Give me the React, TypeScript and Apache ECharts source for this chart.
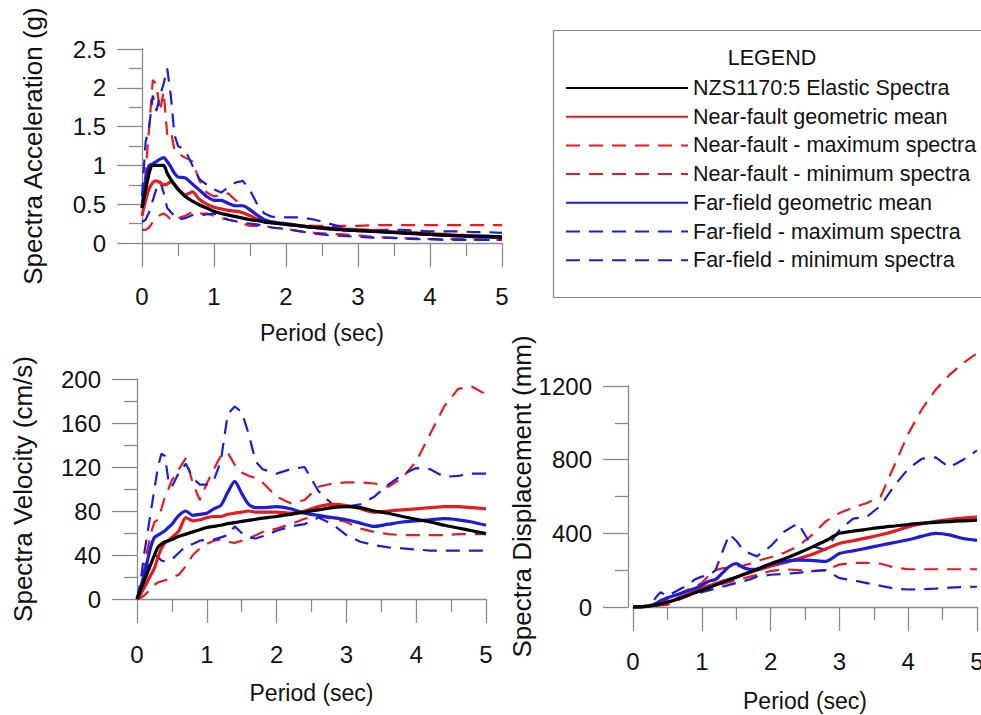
import React, { useEffect, useRef } from "react";
import * as echarts from "echarts";

const FONT = "Liberation Sans, Arial, Helvetica, sans-serif";
const RED = "#e41b1f";
const BLUE = "#1a1ed8";
const BLACK = "#000000";

// Period (sec)
const periods = [0, 0.05, 0.1, 0.15, 0.2, 0.25, 0.3, 0.35, 0.4, 0.45, 0.5, 0.6, 0.7, 0.8, 0.9, 1.0, 1.1, 1.2, 1.3, 1.4, 1.5, 1.6, 1.7, 1.8, 2.0, 2.2, 2.4, 2.6, 2.8, 3.0, 3.2, 3.4, 3.6, 3.8, 4.0, 4.2, 4.4, 4.6, 4.8, 5.0];

const xTicks = { min: 0, max: 5, interval: 1 };
const accTicks = { min: 0, max: 2.5, interval: 0.5 };
const velTicks = { min: 0, max: 200, interval: 40 };
const dispTicks = { min: 0, max: 1200, interval: 400 };

const seriesNames = [
  "NZS1170:5 Elastic Spectra",
  "Near-fault geometric mean",
  "Near-fault - maximum spectra",
  "Near-fault - minimum spectra",
  "Far-field geometric mean",
  "Far-field - maximum spectra",
  "Far-field - minimum spectra",
];

// Spectral acceleration (g)
const accNZS = [0.45, 0.68, 0.9, 1.0, 1.0, 1.0, 1.0, 0.9, 0.82, 0.75, 0.69, 0.6, 0.54, 0.49, 0.45, 0.41, 0.38, 0.36, 0.34, 0.32, 0.3, 0.29, 0.27, 0.26, 0.24, 0.22, 0.2, 0.19, 0.17, 0.16, 0.15, 0.14, 0.13, 0.12, 0.11, 0.1, 0.095, 0.09, 0.085, 0.08];
const accNearMean = [0.35, 0.55, 0.7, 0.78, 0.8, 0.78, 0.75, 0.76, 0.79, 0.76, 0.7, 0.62, 0.66, 0.56, 0.5, 0.46, 0.44, 0.42, 0.41, 0.39, 0.35, 0.31, 0.29, 0.27, 0.24, 0.22, 0.2, 0.19, 0.18, 0.17, 0.16, 0.15, 0.14, 0.13, 0.12, 0.11, 0.1, 0.09, 0.085, 0.08];
const accNearMax = [0.5, 0.9, 1.5, 2.1, 2.05, 1.7, 1.95, 1.4, 1.45, 1.2, 1.15, 1.1, 1.05, 0.8, 0.65, 0.6, 0.62, 0.64, 0.55, 0.5, 0.42, 0.35, 0.3, 0.28, 0.25, 0.23, 0.22, 0.22, 0.22, 0.22, 0.23, 0.23, 0.23, 0.23, 0.23, 0.23, 0.23, 0.23, 0.23, 0.23];
const accNearMin = [0.17, 0.17, 0.2, 0.27, 0.32, 0.36, 0.38, 0.35, 0.3, 0.3, 0.32, 0.35, 0.4, 0.38, 0.38, 0.35, 0.32, 0.3, 0.28, 0.25, 0.22, 0.22, 0.22, 0.2, 0.18, 0.15, 0.13, 0.12, 0.11, 0.1, 0.08, 0.07, 0.06, 0.06, 0.05, 0.05, 0.05, 0.04, 0.04, 0.04];
const accFarMean = [0.45, 0.8, 1.0, 1.02, 1.05, 1.08, 1.1, 1.05, 0.98, 0.9, 0.85, 0.84, 0.76, 0.68, 0.6, 0.55, 0.55, 0.51, 0.48, 0.48, 0.43, 0.36, 0.3, 0.27, 0.25, 0.22, 0.2, 0.18, 0.17, 0.16, 0.15, 0.14, 0.13, 0.12, 0.11, 0.1, 0.09, 0.08, 0.075, 0.07];
const accFarMax = [0.6, 1.3, 1.5, 1.9, 1.7, 1.9, 2.05, 2.25, 1.9, 1.4, 1.25, 1.2, 1.0, 0.82, 0.75, 0.69, 0.65, 0.72, 0.78, 0.8, 0.68, 0.5, 0.38, 0.34, 0.33, 0.33, 0.3, 0.25, 0.2, 0.17, 0.17, 0.17, 0.17, 0.16, 0.15, 0.15, 0.15, 0.14, 0.14, 0.13];
const accFarMin = [0.27, 0.3, 0.4, 0.55, 0.7, 0.8, 0.65, 0.45, 0.4, 0.35, 0.3, 0.32, 0.36, 0.35, 0.37, 0.38, 0.34, 0.3, 0.28, 0.26, 0.25, 0.24, 0.22, 0.2, 0.18, 0.15, 0.12, 0.1, 0.09, 0.08, 0.07, 0.07, 0.06, 0.05, 0.05, 0.04, 0.04, 0.04, 0.04, 0.04];

// Spectral velocity (cm/s)
const velNZS = [0, 8, 16, 24, 32, 40, 47, 50, 52, 53, 54, 57, 59, 61, 63, 65, 66, 67, 68.5, 69.5, 70.5, 71.5, 72.5, 73.5, 75, 77, 79, 81, 83, 84, 83, 80, 78, 75, 72.5, 70, 67, 64.5, 62, 59.5];
const velNearMean = [0, 4, 10, 16, 22, 28, 38, 46, 51, 53, 56, 62, 74, 71, 72, 74, 75, 75, 77, 78, 79, 80, 79, 79, 79, 78, 80, 84, 86, 85, 82, 79, 80, 81, 82, 83, 84, 84, 83, 82];
const velNearMax = [0, 10, 25, 45, 60, 70, 72, 82, 93, 100, 108, 118, 128, 105, 90, 105, 118, 130, 133, 122, 115, 112, 110, 106, 93, 87, 90, 102, 105, 106, 106, 105, 102, 110, 125, 150, 175, 191, 193, 186];
const velNearMin = [0, 1, 3, 6, 10, 13, 15, 16, 17, 18, 20, 22, 30, 40, 46, 50, 53, 54, 52, 51, 53, 55, 58, 61, 64, 68, 73, 75, 73, 70, 64, 61, 59, 58, 58, 58, 58, 59, 59, 59];
const velFarMean = [0, 10, 22, 35, 48, 56, 58, 60, 62, 65, 68, 76, 80, 76, 77, 78, 82, 85, 97, 107, 96, 86, 83, 83, 84, 82, 78, 76, 74, 72, 69, 66, 68, 70, 71, 72, 73, 72, 70, 67];
const velFarMax = [0, 15, 40, 60, 80, 100, 120, 132, 130, 108, 102, 115, 123, 110, 104, 104, 108, 125, 168, 175, 170, 150, 125, 118, 114, 118, 120, 98, 86, 84, 86, 93, 104, 113, 119, 118, 111, 112, 114, 114];
const velFarMin = [0, 8, 18, 28, 36, 40, 38, 35, 34, 35, 36, 42, 48, 50, 53, 54, 54, 56, 58, 66, 60, 56, 55, 57, 62, 66, 68, 74, 68, 58, 52, 49, 47, 46, 45, 44, 44, 44, 44, 44];

// Spectral displacement (mm)
const dispNZS = [0, 0.2, 1, 2, 4, 7, 10, 13, 17, 21, 26, 37, 50, 63, 77, 91, 105, 119, 133, 148, 162, 176, 190, 205, 235, 262, 292, 325, 360, 400, 412, 422, 432, 440, 448, 455, 460, 464, 468, 471];
const dispNearMean = [0, 0, 1, 2, 3, 5, 8, 11, 15, 19, 25, 38, 55, 70, 85, 100, 115, 128, 140, 150, 162, 175, 188, 200, 222, 240, 262, 285, 315, 345, 360, 375, 392, 412, 435, 452, 465, 475, 483, 488];
const dispNearMax = [0, 0, 2, 4, 6, 10, 15, 20, 25, 30, 35, 55, 75, 95, 110, 130, 170, 200, 210, 215, 220, 225, 235, 250, 270, 295, 330, 390, 465, 510, 540, 565, 600, 770, 940, 1075, 1180, 1260, 1325, 1378];
const dispNearMin = [0, 0, 1, 2, 3, 4, 5, 6, 8, 10, 12, 25, 45, 60, 80, 95, 105, 115, 125, 135, 145, 155, 165, 175, 195, 205, 200, 195, 200, 230, 240, 240, 235, 215, 205, 205, 205, 205, 205, 205];
const dispFarMean = [0, 0, 1, 2, 4, 8, 14, 22, 35, 42, 50, 62, 75, 88, 100, 118, 140, 150, 185, 220, 235, 215, 205, 205, 232, 248, 255, 253, 248, 290, 305, 320, 335, 350, 365, 385, 400, 392, 372, 362];
const dispFarMax = [0, 0, 2, 5, 10, 20, 35, 60, 80, 70, 60, 80, 100, 120, 150, 165, 170, 200, 300, 395, 360, 310, 290, 275, 330, 410, 455, 330, 310, 418, 480, 490, 550, 660, 750, 805, 812, 758, 800, 850];
const dispFarMin = [0, 0, 1, 2, 3, 5, 8, 10, 15, 20, 25, 40, 55, 65, 72, 80, 90, 100, 110, 120, 130, 140, 150, 165, 175, 180, 185, 195, 200, 157, 145, 130, 115, 100, 95, 97, 100, 105, 108, 110];

const accSet = [accNZS, accNearMean, accNearMax, accNearMin, accFarMean, accFarMax, accFarMin];
const velSet = [velNZS, velNearMean, velNearMax, velNearMin, velFarMean, velFarMax, velFarMin];
const dispSet = [dispNZS, dispNearMean, dispNearMax, dispNearMin, dispFarMean, dispFarMax, dispFarMin];

const styles = [
  { color: BLACK, dashed: false },
  { color: RED, dashed: false },
  { color: RED, dashed: true },
  { color: RED, dashed: true },
  { color: BLUE, dashed: false },
  { color: BLUE, dashed: true },
  { color: BLUE, dashed: true },
];

const AXIS_GRAY = "#8a8a8a";

function makeX(gridIndex: number, labelMargin: number, nameGap: number) {
  return {
    type: "value",
    gridIndex,
    ...xTicks,
    name: "Period (sec)",
    nameLocation: "middle",
    nameGap,
    nameTextStyle: { fontFamily: FONT, fontSize: 23, color: "#111" },
    axisLine: { show: true, onZero: false, lineStyle: { color: AXIS_GRAY, width: 1.3 } },
    axisTick: { show: true, inside: false, length: 24, lineStyle: { color: AXIS_GRAY, width: 1.3 } },
    minorTick: { show: true, splitNumber: 2, length: 13, lineStyle: { color: AXIS_GRAY, width: 1.3 } },
    axisLabel: { fontFamily: FONT, fontSize: 24, color: "#111", margin: labelMargin, formatter: (v: number) => String(v) },
    splitLine: { show: false },
  };
}

function makeY(gridIndex: number, ticks: any, name: string, nameGap: number, offset: number) {
  return {
    type: "value",
    gridIndex,
    ...ticks,
    offset,
    name,
    nameLocation: "middle",
    nameGap,
    nameTextStyle: { fontFamily: FONT, fontSize: 26, color: "#111" },
    axisLine: { show: true, onZero: false, lineStyle: { color: AXIS_GRAY, width: 1.3 } },
    axisTick: { show: true, inside: false, length: 25, lineStyle: { color: AXIS_GRAY, width: 1.3 } },
    minorTick: { show: true, splitNumber: 2, length: 13, lineStyle: { color: AXIS_GRAY, width: 1.3 } },
    axisLabel: { fontFamily: FONT, fontSize: 24, color: "#111", margin: 36, formatter: (v: number) => String(v) },
    splitLine: { show: false },
  };
}

function buildSeries(set: number[][], axisIndex: number) {
  return set.map((vals, i) => {
    const st = styles[i];
    return {
      type: "line",
      name: seriesNames[i],
      xAxisIndex: axisIndex,
      yAxisIndex: axisIndex,
      data: periods.map((t, k) => [t, vals[k]]),
      symbol: "none",
      smooth: st.dashed ? false : 0.25,
      clip: false,
      z: st.dashed ? 2 : i === 0 ? 4 : 3,
      lineStyle: {
        color: st.color,
        width: st.dashed ? 2.2 : 3.2,
        type: st.dashed ? [14, 9] : "solid",
      },
      itemStyle: { color: st.color },
      emphasis: { disabled: true },
    };
  });
}

export default function App() {
  const ref = useRef<HTMLDivElement>(null);
  useEffect(() => {
    if (!ref.current) return;
    const chart = echarts.init(ref.current, null, { renderer: "svg" });
    chart.setOption({
      animation: false,
      backgroundColor: "#ffffff",
      textStyle: { fontFamily: FONT },
      grid: [
        { left: 142, top: 49, width: 360, height: 194, outerBoundsMode: "none" },
        { left: 137, top: 379, width: 349, height: 220, outerBoundsMode: "none" },
        { left: 633, top: 386, width: 344, height: 221, outerBoundsMode: "none" },
      ],
      xAxis: [makeX(0, 41, 78), makeX(1, 43, 82), makeX(2, 42, 82)],
      yAxis: [
        makeY(0, accTicks, "Spectra Acceleration (g)", 96, 0),
        makeY(1, velTicks, "Spectra Velocity (cm/s)", 101, 0),
        makeY(2, dispTicks, "Spectra Displacement (mm)", 90, 5),
      ],
      legend: {
        orient: "vertical",
        left: 565,
        top: 77,
        padding: 0,
        itemWidth: 122,
        itemHeight: 14,
        itemGap: 6.7,
        selectedMode: false,
        data: seriesNames,
        itemStyle: { opacity: 0 },
        textStyle: { fontFamily: FONT, fontSize: 21.5, color: "#111", lineHeight: 21 },
      },
      graphic: [
        {
          type: "rect",
          shape: { x: 553.5, y: 30.5, width: 440, height: 267 },
          style: { fill: "none", stroke: "#888888", lineWidth: 1.2 },
          silent: true,
        },
        {
          type: "text",
          x: 772,
          y: 58,
          style: {
            text: "LEGEND",
            fontFamily: FONT,
            fontSize: 21.5,
            fill: "#111",
            align: "center",
            verticalAlign: "middle",
          },
          silent: true,
        },
      ],
      series: [...buildSeries(accSet, 0), ...buildSeries(velSet, 1), ...buildSeries(dispSet, 2)],
    });
    return () => chart.dispose();
  }, []);
  return (
    <div
      ref={ref}
      style={{ position: "absolute", left: 0, top: 0, width: 981, height: 715, background: "#fff" }}
    />
  );
}
